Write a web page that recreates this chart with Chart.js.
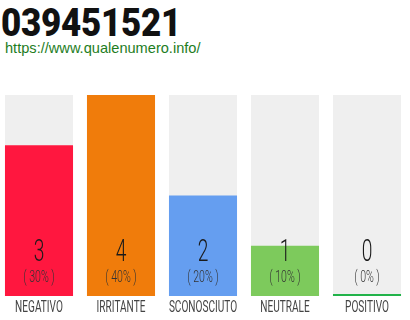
<!DOCTYPE html>
<html>
<head>
<meta charset="utf-8">
<script src="https://cdn.jsdelivr.net/npm/chart.js@4/dist/chart.umd.min.js"></script>
<style>
  html, body { margin: 0; padding: 0; background: #fff; }
  body { width: 410px; height: 320px; position: relative; overflow: hidden; }
  #title {
    position: absolute; left: 1px; top: 1px;
    font-family: Roboto, sans-serif; font-weight: 900; font-size: 38px;
    color: #111; transform: scaleX(0.92); transform-origin: left top;
    letter-spacing: -0.3px;
  }
  #url {
    position: absolute; left: 5px; top: 40px;
    font-family: "Liberation Sans", Arial, sans-serif; font-size: 14.6px;
    color: #1e7d1e;
  }
  #wrap { position: absolute; left: -2px; top: 0; width: 410px; height: 320px; }
</style>
</head>
<body>
<div id="title">039451521</div>
<div id="url">https://www.qualenumero.info/</div>
<div id="wrap"><canvas id="myChart" width="410" height="320"></canvas></div>
<script>
//カテゴリ
var labels = ["NEGATIVO", "IRRITANTE", "SCONOSCIUTO", "NEUTRALE", "POSITIVO"];
//件数
var counts = [3, 4, 2, 1, 0];
//割合ラベル
var percents = ["( 30% )", "( 40% )", "( 20% )", "( 10% )", "( 0% )"];
//背景バー（最大値）
var background = [4, 4, 4, 4, 4];
//色
var colors = ["#ff173f", "#f07c0b", "#659ef0", "#7dca5c", "#22b34a"];

//文字を横に縮めて描く
function narrowText(ctx, text, x, y, sx, font, color) {
    ctx.save();
    ctx.font = font;
    ctx.fillStyle = color;
    ctx.textAlign = "center";
    ctx.textBaseline = "middle";
    ctx.translate(x, y);
    ctx.scale(sx, 1);
    ctx.fillText(text, 0, 0);
    ctx.restore();
}

var labelPlugin = {
    id: "barLabels",
    afterDatasetsDraw: function(chart) {
        var ctx = chart.ctx;
        var xs = chart.scales.x;
        for (var i = 0; i < labels.length; i++) {
            var x = xs.getPixelForValue(i);
            narrowText(ctx, String(counts[i]), x, 253, 0.62, "300 31px Roboto", "#1a1a1a");
            narrowText(ctx, percents[i], x, 278, 0.66, "300 16px Roboto", "#333");
            narrowText(ctx, labels[i], x, 308, 0.63, "400 16px Roboto", "#444");
        }
    }
};

//グラフを描画
var ctx = document.getElementById("myChart");
var myChart = new Chart(ctx, {
    type: 'bar',
    data: {
        labels: labels,
        datasets: [
            {
                data: counts,
                backgroundColor: colors,
                grouped: false,
                order: 1,
                minBarLength: 2,
                barPercentage: 0.83,
                categoryPercentage: 1
            },
            {
                data: background,
                backgroundColor: "#efefef",
                grouped: false,
                order: 2,
                barPercentage: 0.83,
                categoryPercentage: 1
            }
        ]
    },
    options: {
        responsive: false,
        animation: false,
        layout: { padding: { top: 95, bottom: 24, left: 0, right: 0 } },
        plugins: { legend: { display: false }, tooltip: { enabled: false } },
        scales: {
            x: { display: false },
            y: { display: false, min: 0, max: 4 }
        }
    },
    plugins: [labelPlugin]
});
</script>
</body>
</html>
